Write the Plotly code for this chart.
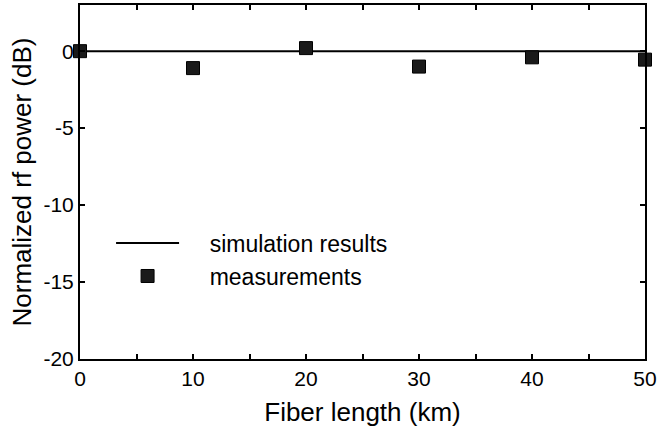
import plotly.graph_objects as go

fiber_km = [0, 10, 20, 30, 40, 50]
measured_db = [0.0, -1.1, 0.2, -1.0, -0.4, -0.55]
sim_km = [0, 50]
sim_db = [0.0, 0.0]
x_ticks = [0, 5, 10, 15, 20, 25, 30, 35, 40, 45, 50]
x_labels = ["0", "", "10", "", "20", "", "30", "", "40", "", "50"]
y_ticks = [-20, -15, -10, -5, 0]
y_labels = ["-20", "-15", "-10", "-5", "0"]

FONT = "Liberation Sans, Arial, Helvetica"
pad = "\u00a0" * 4

fig = go.Figure()
fig.add_trace(go.Scatter(x=sim_km, y=sim_db, mode="lines", name=pad + "simulation results",
                         line=dict(color="black", width=2)))
fig.add_trace(go.Scatter(x=fiber_km, y=measured_db, mode="markers", name=pad + "measurements",
                         marker=dict(symbol="square", size=13, color="#1a1a1a",
                                     line=dict(color="black", width=1)),
                         cliponaxis=False))

axis_common = dict(showline=True, linecolor="black", linewidth=2, mirror="ticks",
                   ticks="inside", ticklen=5, tickwidth=2, tickcolor="black",
                   showgrid=False, zeroline=False, automargin=False,
                   tickfont=dict(family=FONT, size=21, color="black"))

fig.update_layout(
    width=657, height=434,
    margin=dict(l=80, r=12, t=5, b=75),
    paper_bgcolor="white", plot_bgcolor="white",
    font=dict(family=FONT, color="black"),
    xaxis=dict(range=[0, 50], tickvals=x_ticks, ticktext=x_labels,
               title=dict(text="Fiber length (km)", font=dict(size=26), standoff=14),
               **axis_common),
    yaxis=dict(range=[-20, 3], tickvals=y_ticks, ticktext=y_labels,
               title=dict(text="Normalized rf power (dB)", font=dict(size=26), standoff=4),
               **axis_common),
    legend=dict(x=0.055, y=0.388, xanchor="left", yanchor="top",
                font=dict(size=23), bgcolor="rgba(0,0,0,0)",
                itemwidth=63, tracegroupgap=2),
)

fig.write_html("out.html", config={"displayModeBar": False},
               post_script="document.body.style.margin='0';document.body.style.overflow='hidden';")
